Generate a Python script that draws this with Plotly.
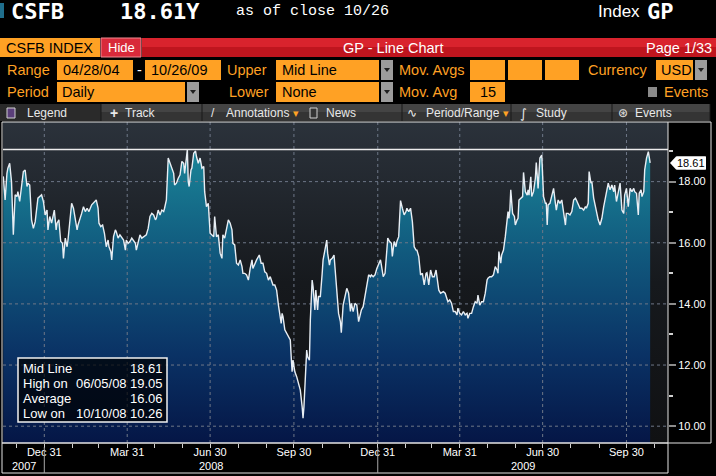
import pandas as pd
import plotly.graph_objects as go

# CSFB index (GP line chart, daily mid line)
days_2007 = ["11-16", "11-18", "11-20", "11-21", "11-23", "11-25", "11-27", "11-29",
             "12-01", "12-02", "12-04", "12-06", "12-08", "12-10", "12-12", "12-13",
             "12-15", "12-17", "12-19", "12-21", "12-23", "12-24", "12-28", "12-30"]
close_2007 = [18.17, 17.40, 18.27, 18.44, 18.60, 18.00, 16.26, 17.57,
              17.51, 17.67, 17.35, 17.84, 18.33, 18.38, 17.84, 17.95,
              17.89, 16.75, 16.47, 16.69, 17.29, 17.46, 17.57, 17.35]

days_2008 = ["01-01", "01-03", "01-04", "01-06", "01-08", "01-11", "01-13", "01-14", "01-16", "01-18",
             "01-20", "01-21", "01-23", "01-25", "01-26", "01-28", "01-30", "02-01", "02-03", "02-05",
             "02-06", "02-08", "02-10", "02-12", "02-14", "02-16", "02-18", "02-21", "02-24", "02-26",
             "02-28", "02-29", "03-02", "03-04", "03-06", "03-08", "03-10", "03-11", "03-13", "03-14",
             "03-16", "03-18", "03-19", "03-21", "03-23", "03-25", "03-27", "03-29", "03-30", "04-01",
             "04-03", "04-05", "04-07", "04-09", "04-10", "04-12", "04-14", "04-16", "04-18", "04-21",
             "04-23", "04-25", "04-27", "04-29", "05-01", "05-02", "05-04", "05-06", "05-08", "05-10",
             "05-11", "05-13", "05-15", "05-17", "05-19", "05-21", "05-22", "05-24", "05-26", "05-28",
             "05-30", "06-01", "06-02", "06-05", "06-06", "06-07", "06-09", "06-10", "06-12", "06-14",
             "06-15", "06-17", "06-19", "06-21", "06-23", "06-24", "06-26", "06-28", "06-30", "07-02",
             "07-04", "07-05", "07-07", "07-09", "07-11", "07-13", "07-14", "07-16", "07-18", "07-20",
             "07-22", "07-24", "07-25", "07-27", "07-29", "07-31", "08-02", "08-04", "08-05", "08-07",
             "08-09", "08-11", "08-13", "08-15", "08-16", "08-18", "08-20", "08-23", "08-25", "08-27",
             "08-29", "08-31", "09-02", "09-04", "09-06", "09-07", "09-09", "09-11", "09-13", "09-14",
             "09-16", "09-17", "09-18", "09-20", "09-22", "09-24", "09-26", "09-27", "09-28", "09-29",
             "10-01", "10-03", "10-05", "10-07", "10-09", "10-10", "10-11", "10-13", "10-14", "10-15",
             "10-17", "10-18", "10-20", "10-21", "10-23", "10-24", "10-26", "10-27", "10-29", "10-31",
             "11-01", "11-03", "11-05", "11-06", "11-08", "11-09", "11-11", "11-13", "11-14", "11-16",
             "11-18", "11-20", "11-21", "11-23", "11-25", "11-27", "11-29", "12-01", "12-02", "12-04",
             "12-06", "12-08", "12-10", "12-12", "12-13", "12-15", "12-17", "12-19", "12-21", "12-23",
             "12-24", "12-26", "12-28", "12-30"]
close_2008 = [16.91, 17.07, 16.42, 16.86, 16.64, 17.07, 16.42, 16.64, 16.75, 16.04,
              15.98, 15.49, 16.15, 15.87, 16.09, 16.75, 17.29, 17.13, 16.75, 16.42,
              16.58, 16.75, 16.96, 17.18, 17.02, 17.13, 17.02, 17.24, 17.35, 17.40,
              17.13, 16.64, 16.53, 16.58, 16.31, 15.87, 16.09, 15.87, 15.71, 15.44,
              16.20, 16.42, 16.36, 16.15, 16.26, 16.15, 16.09, 15.76, 16.09, 15.98,
              16.04, 16.15, 16.04, 15.98, 15.76, 15.98, 16.26, 16.15, 16.20, 16.26,
              16.47, 16.86, 16.96, 16.91, 16.75, 16.80, 17.07, 16.91, 17.07, 17.02,
              17.13, 17.40, 18.77, 18.60, 18.49, 18.27, 17.89, 17.95, 18.11, 18.22,
              18.66, 18.60, 18.27, 19.05, 18.00, 17.84, 18.38, 18.44, 18.93, 19.00,
              18.82, 18.60, 18.77, 18.44, 18.49, 17.67, 17.18, 17.29, 16.31, 16.26,
              16.20, 16.86, 16.20, 16.26, 15.66, 15.49, 16.26, 16.15, 16.42, 16.75,
              16.64, 16.42, 15.98, 15.93, 15.33, 15.27, 15.44, 15.22, 15.00, 15.00,
              14.95, 14.78, 15.16, 15.44, 15.16, 15.33, 15.44, 15.60, 15.33, 15.33,
              15.05, 15.00, 14.78, 14.89, 14.67, 14.62, 14.62, 14.45, 13.96, 13.80,
              13.36, 13.69, 13.58, 13.15, 13.04, 12.93, 12.82, 12.27, 11.78, 12.16,
              11.78, 11.62, 11.40, 11.18, 10.64, 10.26, 10.64, 11.73, 12.49, 12.27,
              12.16, 13.47, 14.78, 14.56, 13.80, 14.45, 13.80, 14.24, 14.24, 15.00,
              15.44, 15.76, 16.09, 15.66, 15.27, 15.44, 15.49, 15.60, 15.22, 14.56,
              13.69, 13.42, 13.06, 13.96, 14.24, 14.51, 14.35, 13.75, 14.02, 13.75,
              14.02, 13.96, 13.42, 13.69, 13.80, 13.91, 14.24, 14.56, 14.95, 14.89,
              14.95, 14.89, 14.95, 15.16]

days_2009 = ["01-01", "01-03", "01-04", "01-06", "01-08", "01-10", "01-11", "01-13", "01-15", "01-16",
             "01-18", "01-20", "01-21", "01-23", "01-25", "01-27", "01-29", "01-31", "02-01", "02-03",
             "02-05", "02-07", "02-09", "02-11", "02-12", "02-14", "02-16", "02-18", "02-20", "02-22",
             "02-23", "02-25", "02-27", "03-01", "03-03", "03-05", "03-06", "03-08", "03-10", "03-13",
             "03-15", "03-17", "03-18", "03-20", "03-22", "03-24", "03-26", "03-28", "03-29", "03-31",
             "04-02", "04-04", "04-06", "04-08", "04-09", "04-11", "04-13", "04-15", "04-17", "04-19",
             "04-20", "04-22", "04-24", "04-26", "04-28", "04-30", "05-01", "05-03", "05-05", "05-07",
             "05-09", "05-11", "05-12", "05-13", "05-15", "05-16", "05-18", "05-20", "05-22", "05-23",
             "05-24", "05-25", "05-26", "05-28", "05-30", "05-31", "06-02", "06-03", "06-04", "06-06",
             "06-08", "06-09", "06-11", "06-13", "06-14", "06-15", "06-17", "06-18", "06-20", "06-22",
             "06-23", "06-25", "06-26", "06-27", "06-29", "06-30", "07-01", "07-03", "07-04", "07-05",
             "07-06", "07-08", "07-10", "07-12", "07-14", "07-15", "07-17", "07-19", "07-21", "07-23",
             "07-25", "07-26", "07-28", "07-30", "08-01", "08-03", "08-05", "08-06", "08-08", "08-10",
             "08-12", "08-14", "08-16", "08-17", "08-19", "08-20", "08-22", "08-23", "08-25", "08-27",
             "08-28", "08-30", "09-01", "09-03", "09-05", "09-06", "09-08", "09-10", "09-12", "09-14",
             "09-16", "09-17", "09-19", "09-21", "09-23", "09-25", "09-27", "09-28", "09-30", "10-02",
             "10-04", "10-06", "10-08", "10-09", "10-11", "10-13", "10-14", "10-16", "10-17", "10-19",
             "10-20", "10-22", "10-24", "10-26"]
close_2009 = [15.33, 15.44, 15.27, 14.89, 15.00, 15.66, 16.15, 16.04, 15.98, 15.55,
              16.04, 15.87, 16.04, 16.20, 17.38, 17.13, 16.91, 17.02, 17.13, 17.02,
              17.13, 16.69, 15.87, 15.76, 15.76, 15.55, 14.95, 15.00, 14.62, 15.00,
              15.02, 14.62, 15.11, 14.89, 14.89, 15.11, 14.89, 14.45, 14.35, 14.40,
              14.35, 14.13, 14.07, 14.13, 14.02, 13.75, 13.75, 13.64, 13.86, 13.69,
              13.64, 13.75, 13.64, 13.69, 13.53, 13.69, 13.69, 13.91, 14.07, 14.02,
              14.29, 13.96, 14.07, 14.07, 14.35, 14.78, 14.84, 14.89, 14.89, 14.95,
              15.22, 15.11, 15.00, 15.71, 15.33, 15.60, 15.76, 16.20, 16.69, 17.02,
              16.80, 17.07, 17.73, 16.96, 16.86, 16.58, 16.75, 16.80, 17.40, 17.46,
              17.51, 18.30, 17.67, 17.56, 17.73, 17.56, 18.16, 17.51, 17.67, 18.11,
              18.62, 17.78, 18.44, 18.77, 18.87, 18.27, 17.51, 17.29, 17.29, 16.58,
              17.24, 17.29, 17.51, 17.78, 17.29, 17.07, 17.40, 17.29, 17.40, 17.02,
              16.58, 16.96, 16.96, 16.91, 17.02, 17.40, 17.46, 17.40, 17.24, 17.13,
              17.13, 17.07, 17.18, 17.13, 17.29, 18.33, 17.95, 18.00, 17.46, 17.18,
              17.02, 16.75, 16.58, 16.80, 17.18, 17.35, 17.62, 17.95, 17.73, 17.89,
              17.67, 17.89, 17.35, 17.62, 17.95, 17.07, 16.96, 17.56, 17.78, 17.18,
              17.78, 17.67, 17.78, 17.67, 17.62, 16.91, 17.62, 17.73, 17.51, 17.67,
              18.38, 18.77, 18.98, 18.61]

# legend box figures as shown on screen
stat_labels = ["Mid Line", "High on", "Average", "Low on"]
stat_dates = ["", "06/05/08", "", "10/10/08"]
stat_values = [18.61, 19.05, 16.06, 10.26]
high_value = 19.05
last_value = 18.61

y_ticks = [10, 12, 14, 16, 18]
y_minor = [11, 13, 15, 17, 19]

dates = pd.to_datetime(["2007-" + d for d in days_2007] +
                       ["2008-" + d for d in days_2008] +
                       ["2009-" + d for d in days_2009])
close = close_2007 + close_2008 + close_2009

month_ends = pd.date_range("2007-11-30", "2009-10-31", freq="ME")
quarter_ends = [d for d in month_ends if d.month % 3 == 0]
tick_text = [d.strftime("%b %d") if d.month % 3 == 0 else "" for d in month_ends]

x_lo = pd.Timestamp("2007-11-15 16:00")
x_hi = pd.Timestamp("2009-11-14 14:00")
y_lo, y_hi = 9.45, 19.95

# plot box in screen pixels
W, H = 716, 476
L, R, T, B = 3, 668, 122, 443


def px(x):
    return (x - L) / (R - L)


def py(y):
    return (B - y) / (B - T)


ORANGE = "#ffa124"
SANS = "Liberation Sans, Arial, sans-serif"
MONO = "DejaVu Sans Mono, monospace"
LS = 14.5  # size of the settings-panel text

shapes = []
annotations = []


def box(x0, y0, x1, y1, fill, line=None, lw=1):
    shapes.append(dict(type="rect", xref="paper", yref="paper",
                       x0=px(x0), x1=px(x1), y0=py(y1), y1=py(y0),
                       fillcolor=fill, layer="above",
                       line=dict(width=lw if line else 0, color=line or "rgba(0,0,0,0)")))


def vline(x, y0, y1, color, width=1):
    shapes.append(dict(type="line", xref="paper", yref="paper",
                       x0=px(x), x1=px(x), y0=py(y0), y1=py(y1),
                       line=dict(color=color, width=width), layer="above"))


def text(x, y, s, size=LS, color=ORANGE, family=SANS, anchor="left"):
    annotations.append(dict(x=px(x), y=py(y), xref="paper", yref="paper", text=s,
                            showarrow=False, xanchor=anchor, yanchor="middle",
                            font=dict(family=family, size=size, color=color)))


def dropdown(x0, y0, x1, y1):
    box(x0, y0, x1, y1, "#9c9c9c")
    cx, cy = (x0 + x1) / 2, (y0 + y1) / 2
    shapes.append(dict(type="path", xref="paper", yref="paper", layer="above",
                       path=f"M {px(cx - 3)},{py(cy - 2)} L {px(cx + 3)},{py(cy - 2)} L {px(cx)},{py(cy + 2)} Z",
                       fillcolor="#202020", line=dict(width=0)))


# ---- title line ----
box(0, 3, 4, 18, "#1f6e8c")
text(9, 11, "<b>CSFB</b>", 22, "white", MONO)
text(118, 11, "<b>18.61Y</b>", 22, "white", MONO)
text(234, 12, "as of close 10/26", 15, "white", "Liberation Mono, DejaVu Sans Mono, monospace")
text(596, 12, "Index", 17, "white", SANS)
text(645, 11, "<b>GP</b>", 22, "white", MONO)

# ---- red title bar ----
box(0, 38, 100, 57, ORANGE)
text(4, 48, "CSFB INDEX", LS, "black")
box(142, 38, 716, 47, "#d9232d")
box(142, 47, 716, 57, "#bf151e")
box(101, 38, 141, 57, "#d82a3a", "#f28a92")
text(121, 47, "Hide", 13, "white", SANS, "center")
text(393, 48, "GP - Line Chart", LS, "white", SANS, "center")
text(714, 48, "Page 1/33", LS, "white", SANS, "right")

# ---- settings rows ----
text(5, 70, "Range")
box(57, 60, 133, 80, ORANGE)
text(61, 70, "04/28/04", LS, "black")
text(139, 70, "-", LS, "white", SANS, "center")
box(145, 60, 221, 80, ORANGE)
text(149, 70, "10/26/09", LS, "black")
text(225, 70, "Upper")
box(276, 60, 379, 80, ORANGE)
text(280, 70, "Mid Line", LS, "black")
dropdown(381, 60, 393, 80)
text(397, 70, "Mov. Avgs")
box(470, 60, 505, 80, ORANGE)
box(508, 60, 542, 80, ORANGE)
box(545, 60, 579, 80, ORANGE)
text(586, 70, "Currency")
box(656, 60, 693, 80, ORANGE)
text(659, 70, "USD", LS, "black")
dropdown(695, 60, 707, 80)

text(5, 92, "Period")
box(57, 82, 185, 102, ORANGE)
text(60, 92, "Daily", LS, "black")
dropdown(187, 82, 199, 102)
text(227, 92, "Lower")
box(276, 82, 379, 102, ORANGE)
text(280, 92, "None", LS, "black")
dropdown(381, 82, 393, 102)
text(397, 92, "Mov. Avg")
box(470, 82, 505, 102, ORANGE)
text(488, 92, "15", LS, "black", SANS, "center")
box(648, 87, 657, 97, "#8a8a8a")
text(662, 92, "Events")

# ---- toolbar ----
box(0, 104, 710, 112, "#444444")
box(0, 112, 710, 121, "#343434")
box(0, 104, 101, 121, "#2a2a2a")
for sx in [101, 202, 402, 511, 612, 710]:
    vline(sx, 104, 121, "#181818")
box(7, 108, 15, 118, "#5b3f7a", "#d0d0d0")
text(25, 113, "Legend", 12, "#e8e8e8")
text(108, 113, "<b>+</b>", 14, "#e8e8e8")
text(123, 113, "Track", 12, "#e8e8e8")
text(209, 113, "/", 12, "#e8e8e8")
text(224, 113, "Annotations", 12, "#e8e8e8")
text(291, 113, "▾", 11, ORANGE)
box(310, 108, 317, 118, "#343434", "#d0d0d0")
text(324, 113, "News", 12, "#e8e8e8")
text(405, 113, "∿", 12, "#e8e8e8", "DejaVu Sans")
text(424, 113, "Period/Range", 12, "#e8e8e8")
text(501, 113, "▾", 11, ORANGE)
text(518, 113, "∫", 13, "#e8e8e8", "DejaVu Sans")
text(534, 113, "Study", 12, "#e8e8e8")
text(616, 113, "⊛", 12, "#e8e8e8", "DejaVu Sans")
text(633, 113, "Events", 12, "#e8e8e8")

# ---- chart frame ----
box(2, 122, 711, 443, None, "#e4e4e4")
box(2, 443, 668, 473, None, "#e4e4e4")
vline(668, 122, 443, "#e4e4e4")

# high line
shapes.append(dict(type="line", xref="paper", yref="y", x0=0, x1=1, y0=high_value, y1=high_value,
                   line=dict(color="#ececec", width=1.5), layer="above"))

# year separators and labels
for yr in ["2007-12-31", "2008-12-31"]:
    shapes.append(dict(type="line", xref="x", yref="paper", x0=yr, x1=yr, y0=py(447), y1=py(473),
                       line=dict(color="#a8a8a8", width=1), layer="above"))
year_spans = [("2007", x_lo, pd.Timestamp("2007-12-31")),
              ("2008", pd.Timestamp("2007-12-31"), pd.Timestamp("2008-12-31")),
              ("2009", pd.Timestamp("2008-12-31"), x_hi)]
for name, a, b in year_spans:
    annotations.append(dict(x=a + (b - a) / 2, xref="x", y=py(466), yref="paper", text=name,
                            showarrow=False, yanchor="middle",
                            font=dict(family=SANS, size=11, color="white")))

# last value marker on the right axis (white tag pointing at the line end)
tag_h = 0.21
shapes.append(dict(type="path", xref="paper", yref="y", layer="above",
                   path=(f"M {px(670)},{last_value} L {px(676)},{last_value + tag_h} "
                         f"L {px(706)},{last_value + tag_h} L {px(706)},{last_value - tag_h} "
                         f"L {px(676)},{last_value - tag_h} Z"),
                   fillcolor="white", line=dict(width=0)))
annotations.append(dict(x=px(691), xref="paper", y=last_value, yref="y", text=f"{last_value:.2f}",
                        showarrow=False, xanchor="center", yanchor="middle", bgcolor="white",
                        borderpad=0, font=dict(family=SANS, size=11, color="black")))

# legend box
box(18, 358, 167, 422, "rgba(0,0,0,0.72)", "#f0f0f0", 1.5)
for i, (lab, dt, val) in enumerate(zip(stat_labels, stat_dates, stat_values)):
    ry = 368 + 15 * i
    text(21, ry, lab, 13, "white")
    if dt:
        text(74, ry, dt, 13, "white")
    text(165, ry, f"{val:.2f}", 13, "white", SANS, "right")

# grid lines as a trace so they sit above the fill but under the line
grid_x, grid_y = [], []
for v in y_ticks:
    grid_x += [x_lo, x_hi, None]
    grid_y += [v, v, None]
for q in quarter_ends:
    grid_x += [q, q, None]
    grid_y += [y_lo, y_hi, None]

fig = go.Figure()
fig.add_trace(go.Scatter(
    x=[x_lo, x_hi], y=[y_hi, y_hi], mode="lines", line=dict(width=0), fill="tozeroy",
    fillgradient=dict(type="vertical", start=y_lo, stop=y_hi,
                      colorscale=[[0, "#101113"], [0.5, "#16191d"], [1, "#2b323b"]]),
    hoverinfo="skip", showlegend=False))
fig.add_trace(go.Scatter(
    x=dates, y=close, mode="lines", line=dict(width=0), fill="tozeroy",
    fillgradient=dict(type="vertical", start=y_lo, stop=19.1,
                      colorscale=[[0, "#051646"], [0.3, "#0a3265"], [0.65, "#115a7e"], [1, "#1a8598"]]),
    hoverinfo="skip", showlegend=False))
fig.add_trace(go.Scatter(
    x=grid_x, y=grid_y, mode="lines", line=dict(color="#6e7787", width=1, dash="3px,3px"),
    hoverinfo="skip", showlegend=False))
fig.add_trace(go.Scatter(
    x=dates, y=close, mode="lines", line=dict(color="#e8eef4", width=1.4),
    name="Mid Line", showlegend=False))

fig.update_layout(
    width=W, height=H, margin=dict(l=L, r=W - R, t=T, b=H - B),
    paper_bgcolor="black", plot_bgcolor="#141618",
    showlegend=False, hovermode=False,
    shapes=shapes, annotations=annotations,
    xaxis=dict(type="date", range=[x_lo, x_hi], tickvals=month_ends, ticktext=tick_text,
               ticks="outside", ticklen=4, tickcolor="#d0d0d0", showgrid=False, showline=False,
               zeroline=False, ticklabelstandoff=-5,
               tickfont=dict(family=SANS, size=11, color="white"), fixedrange=True),
    yaxis=dict(side="right", range=[y_lo, y_hi], tickvals=y_ticks,
               ticktext=[f"{v:.2f}" for v in y_ticks], ticks="outside", ticklen=7, tickwidth=2,
               tickcolor="#8c8c8c", showgrid=False, showline=False, zeroline=False,
               tickfont=dict(family=SANS, size=11, color="white"), fixedrange=True,
               minor=dict(tickvals=y_minor, ticks="outside", ticklen=4, tickcolor="#d0d0d0")),
)

# the page body gets no margin so the figure fills the window like the screen capture
fig.write_html("out.html", config={"displayModeBar": False},
               post_script="document.body.style.margin='0';document.body.style.overflow='hidden';")
